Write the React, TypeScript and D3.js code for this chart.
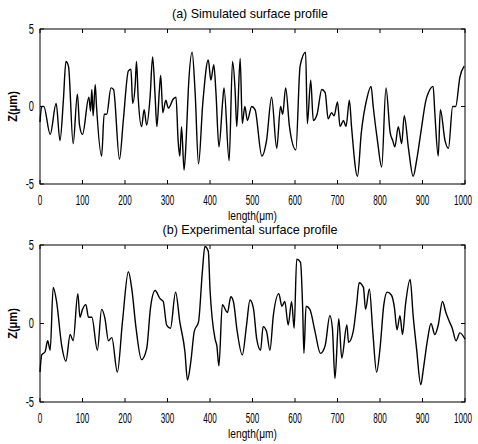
import React from "react";
import * as d3 from "d3";

const simLength = [0,4,9,24,38,47,55,61,67,78,88,93,100,115,119,122,125,130,133,145,151,157,167,173,187,196,208,214,218,224,227,231,239,245,251,259,265,271,275,281,284,289,296,302,314,320,325,329,333,339,344,349,358,365,373,383,396,402,409,414,421,430,433,445,453,459,463,471,476,482,488,498,506,522,533,545,557,566,571,578,587,602,612,625,629,637,643,652,663,671,678,686,692,700,706,714,720,728,733,747,756,769,779,784,794,804,814,824,830,835,843,851,857,867,878,886,896,908,914,925,929,937,942,953,961,971,978,988,998];
const simZ = [-1.0,0,0,-1.8,0.2,-2.2,0.4,2.9,2.6,-2.4,0.8,-1.2,-1.8,0.6,-0.3,1.1,-0.6,1.4,0,-3.2,-0.5,-0.5,1.2,1.1,-3.4,-0.9,2.3,2.4,0.2,1.4,2.9,0.6,-1.3,-0.2,-1.2,0.6,3.2,0.6,-1.3,1.1,2.0,-0.4,0.4,-0.1,0.5,0.6,-2.2,-3.2,-1.3,-4.1,-2.1,1.1,3.5,0.9,-3.7,0.2,3.0,1.7,2.7,0.9,-2.6,0.4,1.2,-3.5,2.9,1.1,-1.3,3.1,-1.1,0,-0.9,0,-0.2,-3.2,-2.2,0.6,-2.7,0,-0.5,1.2,-1.3,-2.8,2.6,3.5,-1.1,1.7,-0.9,-0.5,1.1,0.9,-0.8,-0.4,-0.6,0.3,-1.3,-0.9,-1.3,0.4,-1.3,-4.5,-1.7,0.5,1.3,0,-2.2,-3.9,1.2,-1.7,-2.2,-2.6,-1.3,-2.4,-0.6,-2.7,-4.5,-3.5,-1.7,0.4,0.9,1.3,-0.4,-3.2,-0.2,-2.2,-2.7,0,0,1.9,2.6];

const expLength = [0,4,12,18,24,31,39,51,61,71,78,89,94,100,108,114,122,135,145,153,161,169,182,194,208,216,226,239,251,260,271,282,290,298,307,319,329,341,347,355,363,373,382,388,396,400,412,416,421,429,441,449,455,464,476,486,494,502,510,519,525,533,541,549,562,569,576,584,592,598,604,613,618,621,626,635,647,660,671,682,688,694,703,710,722,726,737,745,751,761,766,775,783,792,800,809,817,827,834,840,847,853,860,871,878,886,896,902,912,920,929,937,947,955,962,970,979,988,1000];
const expZ = [-3.1,-2.0,-1.8,-1.1,-1.7,2.3,1.4,-1.4,-2.4,-0.7,-1.1,1.9,0.4,0.9,1.2,0.4,0.4,-1.7,0.9,0.3,-1.1,-0.9,-3.1,0.1,3.3,2.2,-0.3,-2.3,-1.6,1.0,2.1,1.6,1.4,-0.1,-0.3,2.0,0.1,-1.8,-3.6,-2.4,-0.5,0.1,3.3,4.9,4.6,2.2,-1.0,-1.4,-2.7,1.2,0.7,1.7,1.4,-0.5,-2.0,-0.1,1.5,1.0,-1.0,-1.7,-0.2,-0.5,-1.7,0.5,1.9,1.1,1.4,-0.1,1.4,-0.3,4.1,3.9,1.0,-1.9,1.1,0.9,-0.5,-1.9,-1.4,0.5,-0.3,-3.5,0.3,-2.2,-0.1,-1.2,-0.5,1.2,2.6,2.3,0.9,2.2,-0.5,-3.1,-1.6,1.2,2.0,1.8,1.0,-0.4,0.5,-0.7,1.2,2.8,0.5,-1.6,-3.9,-2.9,-1.0,0,-0.7,-0.1,1.4,0.7,0.2,-0.3,-1.1,-0.6,-1.0];

const xTicks = [0,100,200,300,400,500,600,700,800,900,1000];
const yTicks = [-5,0,5];

const FONT = "'Liberation Sans', Arial, sans-serif";

function Panel({ top, bottom, title, titleScale, lengths, zs }: { top: number; bottom: number; title: string; titleScale: number; lengths: number[]; zs: number[] }) {
  const left = 40, right = 465;
  const x = d3.scaleLinear().domain([0, 1000]).range([left, right]);
  const y = d3.scaleLinear().domain([-5, 5]).range([bottom, top]);
  const pts: [number, number][] = lengths.map((l, i) => [l, zs[i]]);
  const line = d3.line<[number, number]>().x(d => x(d[0])).y(d => y(d[1])).curve(d3.curveMonotoneX);
  const tl = 4;
  return (
    <g>
      <text transform={`translate(250,${top - 16}) scale(${titleScale},1)`} textAnchor="middle" dominantBaseline="central" fontSize={13} fontFamily={FONT}>{title}</text>
      <rect x={left} y={top} width={right - left} height={bottom - top} fill="none" stroke="#000" strokeWidth={1} />
      <path d={line(pts) || ""} fill="none" stroke="#000" strokeWidth={1.4} strokeLinejoin="round" />
      {xTicks.map(t => (
        <g key={"x" + t}>
          <line x1={x(t)} x2={x(t)} y1={bottom} y2={bottom - tl} stroke="#000" />
          <line x1={x(t)} x2={x(t)} y1={top} y2={top + tl} stroke="#000" />
          <text transform={`translate(${t === 1000 ? x(t) - 2 : x(t)},${bottom + 16}) scale(0.58,1)`} textAnchor="middle" dominantBaseline="central" fontSize={14} fontFamily={FONT}>{t}</text>
        </g>
      ))}
      {yTicks.map(t => (
        <g key={"y" + t}>
          <line x1={left} x2={left + tl} y1={y(t)} y2={y(t)} stroke="#000" />
          <line x1={right} x2={right - tl} y1={y(t)} y2={y(t)} stroke="#000" />
          <text transform={`translate(34,${y(t)}) scale(0.62,1)`} textAnchor="end" dominantBaseline="central" fontSize={15} fontFamily={FONT}>{t}</text>
        </g>
      ))}
      <text transform={`translate(${(left + right) / 2},${bottom + 32}) scale(0.85,1)`} textAnchor="middle" dominantBaseline="central" fontSize={12} fontFamily={FONT}>length(μm)</text>
      <text transform={`translate(13,${(top + bottom) / 2}) rotate(-90) scale(0.85,1)`} textAnchor="middle" dominantBaseline="central" fontSize={13} fontFamily={FONT} fontWeight="bold">Z(μm)</text>
    </g>
  );
}

export default function App() {
  return (
    <svg width={478} height={444} style={{ position: "absolute", left: 0, top: 0, background: "#fff" }}>
      <rect width={478} height={444} fill="#fff" />
      <Panel top={29} bottom={184} title="(a) Simulated surface profile" titleScale={0.96} lengths={simLength} zs={simZ} />
      <Panel top={245} bottom={402} title="(b) Experimental surface profile" titleScale={0.97} lengths={expLength} zs={expZ} />
    </svg>
  );
}
